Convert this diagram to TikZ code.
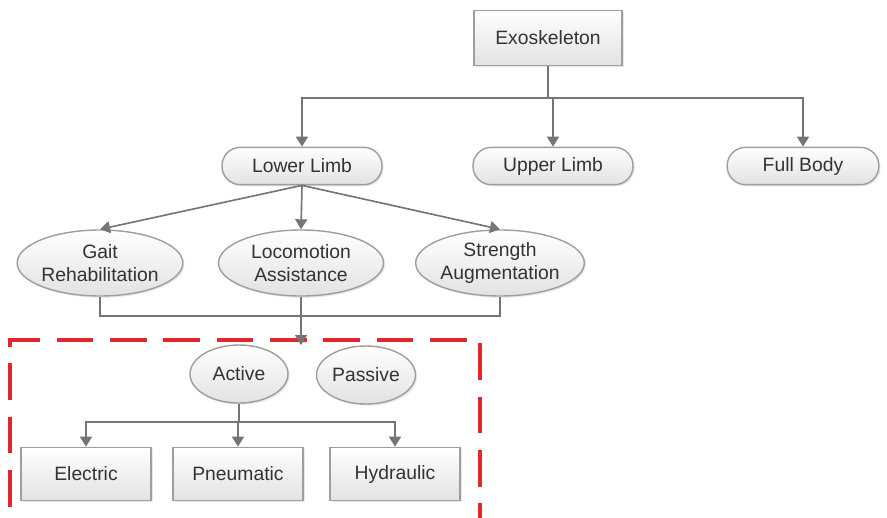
\documentclass[tikz,border=0pt]{standalone}
\usepackage{fontspec}
\setmainfont{Liberation Sans}
\usetikzlibrary{arrows.meta,shapes.geometric,shadows}
\definecolor{rim}{HTML}{A29C9A}
\definecolor{wire}{HTML}{757575}
\definecolor{fade}{HTML}{E2E2E2}
\definecolor{label}{HTML}{333333}
\definecolor{frame}{HTML}{E1262C}
\tikzset{rectbox/.style={draw=rim,line width=1.2pt,top color=white,bottom color=fade,text=label,align=center,drop shadow={opacity=.18,shadow xshift=.5mm,shadow yshift=-.5mm}}, pill/.style={rectbox,rounded corners=5.5mm,minimum width=48mm,minimum height=11.2mm}, oval/.style={rectbox,ellipse,inner sep=0pt}, link/.style={draw=wire,line width=1.4pt}, arr/.style={link,-{Triangle[length=3mm,width=3.6mm]}}}
\begin{document}
\begin{tikzpicture}[x=.3mm,y=-.3mm,font=\fontsize{16.5}{19.5}\selectfont]
\useasboundingbox[fill=white](0,0) rectangle (887,517);
% dashed frame, cut off at the bottom
\draw[frame,line width=2.6pt,dash pattern=on 11mm off 5mm] (10,560) -- (10,340) -- (480,340) -- (480,560);
\node[rectbox,minimum width=44.4mm,minimum height=16.5mm] (exo) at (548,38) {Exoskeleton};
\node[pill] (lower) at (302,166) {Lower Limb};
\node[pill] (upper) at (553,166) {Upper Limb};
\node[pill,minimum width=45.5mm] (full) at (803,166) {Full Body};
\coordinate (bus) at (0,98);
\foreach \n in {lower,upper,full}{\draw[arr] (exo.south) |- (bus -| \n) -- (\n.north);}
\foreach \n/\x/\t in {gait/100/Gait\\Rehabilitation,loco/301/Locomotion\\Assistance,strength/500/Strength\\Augmentation}{\node[oval,minimum width=49.5mm,minimum height=19.8mm] (\n) at (\x,263) {\t};\draw[arr] (lower.south) -- (\n.north);}
\coordinate (merge) at (301,316);
\coordinate (boxtop) at (301,345);
\foreach \n in {gait,loco,strength}{\draw[link] (\n.south) |- (merge);}
\draw[arr] (merge) -- (boxtop);
\node[oval,minimum width=29.4mm,minimum height=17.4mm] (active) at (239,374) {Active};
\node[oval,minimum width=29.7mm,minimum height=17.4mm] (passive) at (366,375) {Passive};
\coordinate (split) at (0,422);
\foreach \n/\x/\t in {elec/86/Electric,pneu/238/Pneumatic,hydr/395/Hydraulic}{\node[rectbox,minimum width=39mm,minimum height=16mm] (\n) at (\x,474) {\t};\draw[arr] (active.south) |- (split -| \n) -- (\n.north);}
\end{tikzpicture}
\end{document}
